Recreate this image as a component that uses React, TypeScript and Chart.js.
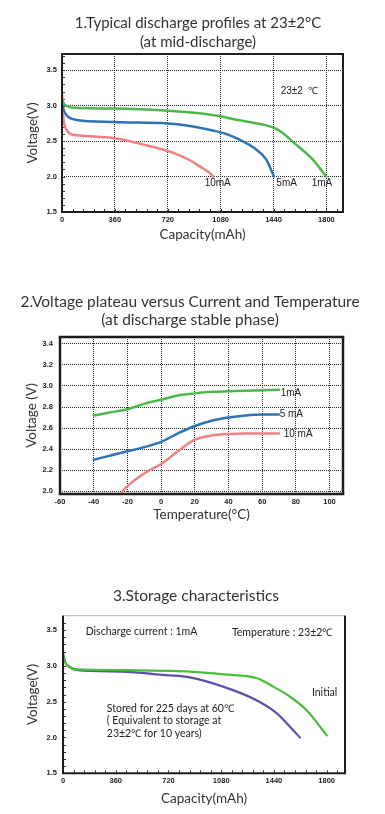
import React, { useEffect, useRef } from "react";
import { Chart, registerables } from "chart.js";

Chart.register(...registerables);

const W = 385;

// ---------- Chart 1: discharge profiles ----------
const c1XTicks = [0, 360, 720, 1080, 1440, 1800];
const c1YTicks = [1.5, 2.0, 2.5, 3.0, 3.5];
const c1XMinor = [72, 144, 216, 288, 432, 504, 576, 648, 792, 864, 936, 1008, 1152, 1224, 1296, 1368, 1512, 1584, 1656, 1728, 1872];
const c1YMinor = [1.6, 1.7, 1.8, 1.9, 2.1, 2.2, 2.3, 2.4, 2.6, 2.7, 2.8, 2.9, 3.1, 3.2, 3.3, 3.4, 3.6, 3.7];

const c1Cap1mA = [0, 15, 40, 80, 360, 720, 900, 1080, 1170, 1300, 1380, 1440, 1500, 1572, 1708, 1800];
const c1V1mA = [3.08, 3.02, 2.99, 2.97, 2.96, 2.93, 2.9, 2.85, 2.81, 2.76, 2.73, 2.69, 2.62, 2.49, 2.24, 2.0];
const c1Cap5mA = [0, 10, 30, 60, 100, 360, 720, 850, 1027, 1120, 1209, 1323, 1391, 1443];
const c1V5mA = [3.05, 2.95, 2.87, 2.82, 2.8, 2.77, 2.75, 2.72, 2.65, 2.6, 2.52, 2.38, 2.24, 2.0];
const c1Cap10mA = [0, 5, 15, 35, 60, 120, 360, 540, 720, 800, 870, 940, 1000, 1030];
const c1V10mA = [3.2, 2.95, 2.75, 2.65, 2.6, 2.58, 2.54, 2.46, 2.36, 2.3, 2.23, 2.14, 2.06, 2.0];

// ---------- Chart 2: plateau vs temperature ----------
const c2XTicks = [-60, -40, -20, 0, 20, 40, 60, 80, 100];
const c2YTicks = [2.0, 2.2, 2.4, 2.6, 2.8, 3.0, 3.2, 3.4];
const c2Temp = [-40, -30, -20, -10, 0, 10, 20, 30, 40, 50, 60, 70];
const c2V1mA = [2.72, 2.75, 2.78, 2.83, 2.87, 2.91, 2.93, 2.945, 2.95, 2.955, 2.96, 2.965];
const c2V5mA = [2.3, 2.34, 2.38, 2.42, 2.47, 2.55, 2.62, 2.67, 2.7, 2.72, 2.73, 2.73];
const c2Temp10mA = [-23, -20, -10, 0, 10, 20, 30, 40, 50, 60, 70];
const c2V10mA = [2.0, 2.05, 2.17, 2.26, 2.38, 2.49, 2.53, 2.545, 2.55, 2.55, 2.55];

// ---------- Chart 3: storage ----------
const c3XTicks = [0, 360, 720, 1080, 1440, 1800];
const c3YTicks = [1.5, 2.0, 2.5, 3.0, 3.5];
const c3XMinor = [72, 144, 216, 288, 432, 504, 576, 648, 792, 864, 936, 1008, 1152, 1224, 1296, 1368, 1512, 1584, 1656, 1728, 1872];
const c3YMinor = [1.6, 1.7, 1.8, 1.9, 2.1, 2.2, 2.3, 2.4, 2.6, 2.7, 2.8, 2.9, 3.1, 3.2, 3.3, 3.4, 3.6];
const c3CapInitial = [0, 15, 40, 100, 400, 700, 866, 1100, 1321, 1435, 1549, 1663, 1800];
const c3VInitial = [3.15, 3.05, 2.99, 2.95, 2.94, 2.93, 2.92, 2.88, 2.83, 2.71, 2.57, 2.38, 2.03];
const c3CapStored = [0, 15, 35, 100, 400, 700, 866, 1093, 1321, 1458, 1549, 1617];
const c3VStored = [3.18, 3.05, 3.0, 2.94, 2.92, 2.87, 2.84, 2.71, 2.52, 2.34, 2.15, 2.0];

const pts = (xs: number[], ys: number[]) => xs.map((x, i) => ({ x, y: ys[i] }));

const GREEN = "#4cb84a";
const BLUE = "#2f72b8";
const RED = "#f08282";
const PURPLE = "#5a52a8";
const TITLE_FAMILY = 'Lato, "Open Sans", sans-serif';
const TICK_FONT = { family: '"Liberation Sans", Arial, sans-serif', size: 7.5, weight: "bold" as const };

// ---------- plugins ----------
const framePlugin = {
  id: "frame",
  afterDatasetsDraw(chart: any, _a: any, opts: any) {
    if (!opts || !opts.sides) return;
    const { ctx, chartArea: a } = chart;
    const s = opts.sides;
    const seg = (x1: number, y1: number, x2: number, y2: number, st: any) => {
      ctx.beginPath();
      ctx.lineWidth = st.w;
      ctx.strokeStyle = st.c;
      ctx.moveTo(x1, y1);
      ctx.lineTo(x2, y2);
      ctx.stroke();
    };
    ctx.save();
    ctx.setLineDash([]);
    seg(a.left - s.left.w / 2, a.top, a.right + s.right.w / 2, a.top, s.top);
    seg(a.left - s.left.w / 2, a.bottom, a.right + s.right.w / 2, a.bottom, s.bottom);
    seg(a.left, a.top, a.left, a.bottom, s.left);
    seg(a.right, a.top, a.right, a.bottom, s.right);
    ctx.restore();
  },
};

const minorTicksPlugin = {
  id: "minorTicks",
  beforeDatasetsDraw(chart: any, _a: any, opts: any) {
    if (!opts || !opts.x) return;
    const { ctx, chartArea: a, scales } = chart;
    ctx.save();
    ctx.strokeStyle = opts.color;
    ctx.lineWidth = opts.width;
    ctx.beginPath();
    for (const v of opts.x) {
      const px = Math.round(scales.x.getPixelForValue(v)) + 0.5;
      ctx.moveTo(px, a.bottom);
      ctx.lineTo(px, a.bottom - opts.len);
    }
    for (const v of opts.y) {
      const py = Math.round(scales.y.getPixelForValue(v)) + 0.5;
      ctx.moveTo(a.left, py);
      ctx.lineTo(a.left + opts.len, py);
    }
    ctx.stroke();
    ctx.restore();
  },
};

const notesPlugin = {
  id: "notes",
  afterDatasetsDraw(chart: any, _a: any, opts: any) {
    if (!opts || !opts.items) return;
    const { ctx, scales } = chart;
    for (const n of opts.items) {
      ctx.save();
      ctx.font = n.font;
      ctx.fillStyle = n.color || "#222";
      ctx.textAlign = n.align || "left";
      ctx.textBaseline = "middle";
      ctx.fillText(n.text, scales.x.getPixelForValue(n.x), scales.y.getPixelForValue(n.y));
      ctx.restore();
    }
  },
};

function setTicks(values: number[]) {
  return (scale: any) => {
    scale.ticks = values.map((v) => ({ value: v }));
  };
}

function line(label: string, data: any[], color: string, width = 2.5) {
  return {
    label,
    data,
    borderColor: color,
    backgroundColor: color,
    borderWidth: width,
    pointRadius: 0,
    fill: false,
    cubicInterpolationMode: "monotone" as const,
    borderCapStyle: "round" as const,
  };
}

function buildConfig(p: any) {
  const gridOn = p.grid !== false;
  return {
    type: "line",
    data: { datasets: p.datasets },
    plugins: [minorTicksPlugin, framePlugin, notesPlugin],
    options: {
      responsive: false,
      animation: false,
      devicePixelRatio: 1,
      layout: { padding: p.padding },
      scales: {
        x: {
          type: "linear",
          min: p.xMin,
          max: p.xMax,
          afterBuildTicks: setTicks(p.xTicks),
          afterFit: (s: any) => {
            s.height = p.xHeight;
          },
          grid: {
            display: gridOn,
            drawTicks: false,
            color: "#2a2a2a",
            lineWidth: 1,
          },
          border: { display: false, dash: [1, 1] },
          ticks: {
            font: TICK_FONT,
            color: "#222",
            padding: p.xTickPad,
            maxRotation: 0,
            autoSkip: false,
            callback: (v: any) => String(v),
          },
          title: {
            display: true,
            text: p.xTitle,
            font: { family: TITLE_FAMILY, size: 13.5, lineHeight: 1.2 },
            color: "#333",
            padding: { top: 0, bottom: p.xTitlePad },
          },
        },
        y: {
          type: "linear",
          min: p.yMin,
          max: p.yMax,
          afterBuildTicks: setTicks(p.yTicks),
          afterFit: (s: any) => {
            s.width = p.yWidth;
          },
          grid: {
            display: gridOn,
            drawTicks: false,
            color: "#2a2a2a",
            lineWidth: 1,
          },
          border: { display: false, dash: [1, 1] },
          ticks: {
            font: TICK_FONT,
            color: "#222",
            padding: p.yTickPad,
            autoSkip: false,
            callback: (v: any) => Number(v).toFixed(1),
          },
          title: {
            display: true,
            text: p.yTitle,
            font: { family: TITLE_FAMILY, size: 13.5, lineHeight: 1.2 },
            color: "#333",
            padding: { top: p.yTitlePad, bottom: 0 },
          },
        },
        yr: {
          type: "linear",
          position: "right",
          display: true,
          afterFit: (s: any) => {
            s.width = p.rightWidth;
          },
          grid: { display: false, drawTicks: false },
          border: { display: false },
          ticks: { display: false },
        },
      },
      plugins: {
        legend: { display: false },
        tooltip: { enabled: false },
        title: {
          display: true,
          text: p.title,
          color: "#333",
          font: { family: TITLE_FAMILY, size: p.titleSize, weight: "normal", lineHeight: p.titleLH },
          padding: p.titlePad,
        },
        minorTicks: p.minor,
        frame: { sides: p.frame },
        notes: { items: p.notes },
      },
    },
  };
}

const NOTE_FONT = '10px "Liberation Sans", Arial, sans-serif';
const NOTE_FONT3 = '10.5px Lato, "Open Sans", sans-serif';
const DARK = "#1e1e1e";

const chart1 = () =>
  buildConfig({
    datasets: [
      line("1mA", pts(c1Cap1mA, c1V1mA), GREEN),
      line("5mA", pts(c1Cap5mA, c1V5mA), BLUE),
      line("10mA", pts(c1Cap10mA, c1V10mA), RED),
    ],
    padding: { left: 11, right: 0, top: 0, bottom: 0 },
    xMin: 0,
    xMax: 1913,
    yMin: 1.5,
    yMax: 3.73,
    xTicks: c1XTicks,
    yTicks: c1YTicks,
    xHeight: 38,
    yWidth: 51,
    rightWidth: 42,
    xTickPad: 3,
    yTickPad: 5,
    xTitle: "Capacity(mAh)",
    yTitle: "Voltage(V)",
    xTitlePad: 6.8,
    yTitlePad: 13.8,
    title: ["1.Typical discharge profiles at 23±2°C", "(at mid-discharge)"],
    titleSize: 15,
    titleLH: 19 / 15,
    titlePad: { top: 13.5, bottom: 2.5 },
    minor: { x: [...c1XMinor, ...c1XTicks], y: [...c1YMinor, ...c1YTicks], len: 3, color: "#333", width: 1 },
    frame: { top: { w: 2, c: DARK }, bottom: { w: 2, c: DARK }, left: { w: 2, c: DARK }, right: { w: 2, c: DARK } },
    notes: [
      { text: "23±2  ℃", x: 1617, y: 3.2, font: NOTE_FONT, align: "center" },
      { text: "10mA", x: 1060, y: 1.91, font: NOTE_FONT, align: "center" },
      { text: "5mA", x: 1529, y: 1.91, font: NOTE_FONT, align: "center" },
      { text: "1mA", x: 1770, y: 1.91, font: NOTE_FONT, align: "center" },
    ],
  });

const chart2 = () =>
  buildConfig({
    datasets: [
      line("1mA", pts(c2Temp, c2V1mA), GREEN),
      line("5mA", pts(c2Temp, c2V5mA), BLUE),
      line("10mA", pts(c2Temp10mA, c2V10mA), RED),
    ],
    padding: { left: 0, right: 5, top: 0, bottom: 0 },
    xMin: -60,
    xMax: 108,
    yMin: 1.975,
    yMax: 3.465,
    xTicks: c2XTicks,
    yTicks: c2YTicks,
    xHeight: 41,
    yWidth: 60,
    rightWidth: 37,
    xTickPad: 3,
    yTickPad: 7,
    xTitle: "Temperature(°C)",
    yTitle: "Voltage (V)",
    xTitlePad: 11.8,
    yTitlePad: 24,
    title: ["2.Voltage plateau versus Current and Temperature", "(at discharge stable phase)"],
    titleSize: 15.5,
    titleLH: 18 / 15.5,
    titlePad: { top: 8, bottom: 8 },
    minor: null,
    frame: { top: { w: 2.5, c: DARK }, bottom: { w: 2.5, c: DARK }, left: { w: 2.5, c: DARK }, right: { w: 2.5, c: DARK } },
    notes: [
      { text: "1mA", x: 71, y: 2.93, font: NOTE_FONT, align: "left" },
      { text: "5 mA", x: 70.4, y: 2.73, font: NOTE_FONT, align: "left" },
      { text: "10 mA", x: 72.8, y: 2.54, font: NOTE_FONT, align: "left" },
    ],
  });

const chart3 = () =>
  buildConfig({
    datasets: [
      line("Initial", pts(c3CapInitial, c3VInitial), "#4cbb3c", 2.2),
      line("Stored", pts(c3CapStored, c3VStored), PURPLE, 2.2),
    ],
    padding: { left: 7, right: 0, top: 0, bottom: 0 },
    grid: false,
    xMin: 0,
    xMax: 1925,
    yMin: 1.5,
    yMax: 3.7,
    xTicks: c3XTicks,
    yTicks: c3YTicks,
    xHeight: 40.7,
    yWidth: 56,
    rightWidth: 40,
    xTickPad: 3,
    yTickPad: 6,
    xTitle: "Capacity(mAh)",
    yTitle: "Voltage(V)",
    xTitlePad: 6.8,
    yTitlePad: 17.5,
    title: "3.Storage characteristics",
    titleSize: 15.5,
    titleLH: 18 / 15.5,
    titlePad: { top: 7, bottom: 10.7 },
    minor: { x: [...c3XMinor, ...c3XTicks], y: [...c3YMinor, ...c3YTicks], len: 3, color: "#333", width: 1 },
    frame: { top: { w: 1, c: "#b5b5b5" }, bottom: { w: 2, c: DARK }, left: { w: 2, c: DARK }, right: { w: 2, c: DARK } },
    notes: [
      { text: "Discharge current : 1mA", x: 155, y: 3.48, font: NOTE_FONT3, align: "left" },
      { text: "Temperature : 23±2℃", x: 1153, y: 3.46, font: NOTE_FONT3, align: "left" },
      { text: "Initial", x: 1699, y: 2.62, font: NOTE_FONT3, align: "left" },
      { text: "Stored for 225 days at 60℃", x: 299, y: 2.41, font: NOTE_FONT3, align: "left" },
      { text: "( Equivalent to storage at", x: 299, y: 2.24, font: NOTE_FONT3, align: "left" },
      { text: "23±2℃ for 10 years)", x: 299, y: 2.06, font: NOTE_FONT3, align: "left" },
    ],
  });

function ChartCanvas({ top, height, config }: { top: number; height: number; config: () => any }) {
  const ref = useRef<HTMLCanvasElement>(null);
  useEffect(() => {
    const chart = new Chart(ref.current as HTMLCanvasElement, config() as any);
    return () => chart.destroy();
  }, [config]);
  return (
    <canvas
      ref={ref}
      width={W}
      height={height}
      style={{ position: "absolute", left: 0, top, width: W, height, display: "block" }}
    />
  );
}

export default function App() {
  return (
    <div style={{ position: "absolute", left: 0, top: 0, width: W, height: 814, background: "#fff", overflow: "hidden" }}>
      <ChartCanvas top={0} height={250} config={chart1} />
      <ChartCanvas top={285} height={250} config={chart2} />
      <ChartCanvas top={580} height={234} config={chart3} />
    </div>
  );
}
